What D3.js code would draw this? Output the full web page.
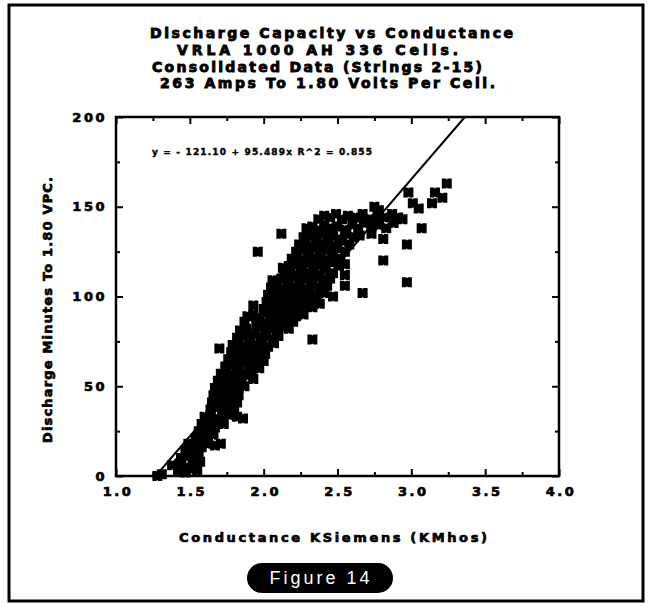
<!DOCTYPE html>
<html lang="en">
<head>
<title>Discharge Capacity vs Conductance</title>
<meta charset="utf-8">
<script src="https://d3js.org/d3.v7.min.js"></script>
<style type="text/css">
  body { margin: 0; background: #fff; }
  svg text { font-family: 'DejaVu Sans', sans-serif; font-weight: bold; fill: #000; stroke: #000; stroke-width: 0.7px; }
  .axis path.domain { display: none; }
  .axis line { stroke: #000; stroke-width: 2; }
</style>
</head>
<body>
<div id="chart"></div>
<script>

/* Data */
/* ==== */

var titleLines = [
  'Discharge Capacity vs Conductance',
  'VRLA 1000 AH 336 Cells.',
  'Consolidated Data (Strings 2-15)',
  '263 Amps To 1.80 Volts Per Cell.'
];

var xTicks = [1.0, 1.5, 2.0, 2.5, 3.0, 3.5, 4.0];
var xMinorTicks = [1.25, 1.75, 2.25, 2.75, 3.25, 3.75];
var yTicks = [0, 50, 100, 150, 200];
var yMinorTicks = [25, 75, 125, 175];

// regression: y = intercept + slope * x
var intercept = -121.10,
    slope = 95.489,
    rSquared = 0.855;

// [conductance (KMhos), discharge minutes]
var cells = [
  [1.28,0],[1.31,1],
  [1.42,3],[1.47,2],[1.51,4],[1.55,3],
  [1.38,6],[1.43,7],[1.48,5],[1.53,6],[1.57,8],
  [1.44,10],[1.49,11],[1.52,9],[1.56,12],
  [1.47,14],[1.51,15],[1.55,13],[1.58,16],
  [1.49,18],[1.53,17],[1.58,19],[1.62,18],[1.67,17],[1.71,18],
  [1.54,21],[1.58,22],[1.62,21],[1.66,23],
  [1.56,25],[1.60,26],[1.64,24],[1.67,27],
  [1.58,29],[1.62,30],[1.66,28],[1.70,30],[1.73,29],
  [1.60,33],[1.64,34],[1.68,32],[1.72,33],[1.77,34],[1.82,33],[1.86,32],
  [1.64,37],[1.68,38],[1.72,36],[1.76,39],[1.80,37],
  [1.65,41],[1.69,42],[1.73,40],[1.77,43],[1.82,41],
  [1.66,45],[1.70,46],[1.74,44],[1.78,47],[1.83,45],
  [1.67,49],[1.71,50],[1.75,48],[1.79,51],[1.83,49],[1.87,50],
  [1.69,53],[1.73,54],[1.77,52],[1.81,55],[1.85,53],[1.89,56],[1.93,54],
  [1.71,57],[1.75,58],[1.79,56],[1.83,59],[1.87,57],[1.92,58],
  [1.74,61],[1.78,62],[1.82,60],[1.86,63],[1.90,61],[1.94,62],[1.97,60],
  [1.76,65],[1.80,66],[1.84,64],[1.88,67],[1.92,65],[1.96,66],[2.00,64],
  [1.78,69],[1.82,70],[1.86,68],[1.90,71],[1.94,69],[1.98,70],[2.01,68],[1.70,71],
  [1.79,73],[1.83,74],[1.87,72],[1.91,75],[1.95,73],[1.99,74],[2.03,72],[2.07,74],[2.33,76],
  [1.82,77],[1.86,78],[1.90,76],[1.94,79],[1.98,77],[2.02,78],[2.06,76],[2.10,78],
  [1.84,81],[1.88,82],[1.92,80],[1.97,83],[2.01,81],[2.05,82],[2.09,80],[2.13,83],[2.17,82],
  [1.95,85],[1.87,86],[2.00,85],[2.04,86],[2.08,84],[2.12,87],[2.16,85],[2.20,86],
  [1.89,89],[1.93,90],[1.97,88],[2.02,91],[2.06,89],[2.10,90],[2.14,88],[2.18,91],[2.22,89],[2.27,90],
  [2.00,93],[2.04,94],[2.08,92],[2.12,95],[2.16,93],[2.20,94],[2.24,92],[2.28,95],[2.33,94],
  [1.93,95],[2.38,96],
  [2.02,97],[2.06,98],[2.10,96],[2.14,99],[2.18,97],[2.22,98],[2.26,96],[2.30,99],[2.34,97],
  [2.03,101],[2.07,102],[2.11,100],[2.15,103],[2.19,101],[2.23,102],[2.27,100],[2.31,103],[2.36,101],[2.41,102],[2.47,100],
  [2.67,102],
  [2.05,105],[2.09,106],[2.13,104],[2.17,107],[2.21,105],[2.25,106],[2.29,104],[2.33,107],[2.38,105],[2.43,106],
  [2.55,106],[2.97,108],
  [2.06,109],[2.12,110],[2.16,108],[2.20,111],[2.24,109],[2.28,110],[2.32,108],[2.36,111],[2.40,109],[2.45,110],
  [2.55,112],
  [2.14,113],[2.18,114],[2.22,112],[2.26,115],[2.30,113],[2.34,114],[2.38,112],[2.42,115],[2.47,113],
  [2.13,116],[2.17,117],[2.21,118],[2.25,116],[2.29,119],[2.33,117],[2.37,118],[2.41,116],[2.46,119],[2.51,117],[2.55,118],
  [2.81,120],
  [2.19,121],[2.23,122],[2.27,120],[2.31,123],[2.35,121],[2.39,122],[2.43,120],[2.47,123],[2.52,121],
  [1.96,125],
  [2.22,125],[2.26,126],[2.30,124],[2.34,127],[2.38,125],[2.42,126],[2.46,124],[2.50,127],[2.55,125],
  [2.24,129],[2.28,130],[2.32,128],[2.36,131],[2.40,129],[2.44,130],[2.48,128],[2.53,131],[2.58,129],
  [2.97,129],
  [2.12,135],[2.27,133],[2.31,134],[2.35,132],[2.39,135],[2.43,133],[2.47,134],[2.51,132],[2.56,135],[2.61,133],[2.65,134],
  [2.73,135],[2.81,132],
  [2.29,138],[2.33,139],[2.37,137],[2.41,140],[2.45,138],[2.50,139],[2.55,137],[2.60,140],[2.64,138],[2.68,141],[2.73,139],[2.78,140],[2.83,138],[2.88,141],
  [3.07,138],
  [2.37,143],[2.41,145],[2.45,144],[2.49,146],[2.53,143],[2.57,145],[2.62,144],[2.67,146],[2.72,143],[2.77,145],[2.82,144],[2.87,146],[2.91,144],
  [2.94,143],
  [2.75,150],[2.78,148],[3.01,152],[3.05,149],[3.14,152],[2.98,158],[3.16,158],[3.21,155],[3.24,163]
];


/* Set up */
/* ====== */

var width = 655,
    height = 603;

var plot = { left: 116, right: 559, top: 117, bottom: 476 };

var svg = d3.select('#chart').append('svg')
    .attr('width', width)
    .attr('height', height);

var x = d3.scaleLinear().domain([1, 4]).range([plot.left, plot.right]);
var y = d3.scaleLinear().domain([0, 200]).range([plot.bottom, plot.top]);

// outer frame
svg.append('rect')
    .attr('x', 9).attr('y', 5)
    .attr('width', 634).attr('height', 596)
    .attr('fill', 'none')
    .attr('stroke', '#000')
    .attr('stroke-width', 3);


/* Titles */
/* ------ */

var titlePos = [
  { x: 150, w: 363, y: 38 },
  { x: 177, w: 281, y: 55 },
  { x: 152, w: 330, y: 72 },
  { x: 160, w: 335, y: 88 }
];

svg.selectAll('text.title')
  .data(titleLines)
  .enter().append('text')
    .attr('class', 'title')
    .attr('x', function(d, i) { return titlePos[i].x; })
    .attr('y', function(d, i) { return titlePos[i].y; })
    .attr('textLength', function(d, i) { return titlePos[i].w; })
    .attr('lengthAdjust', 'spacing')
    .style('font-size', '14px')
    .style('stroke-width', '0.9px')
    .text(function(d) { return d; });


/* Axes */
/* ---- */

function addAxis(axis, tx, ty) {
  return svg.append('g')
      .attr('class', 'axis')
      .attr('transform', 'translate(' + tx + ',' + ty + ')')
      .call(axis);
}

// major and minor ticks all round, pointing inward
var xBottom = addAxis(d3.axisBottom(x).tickValues(xTicks).tickSize(-7).tickPadding(11)
    .tickFormat(d3.format('.1f')), 0, plot.bottom);
addAxis(d3.axisBottom(x).tickValues(xMinorTicks).tickSize(-4).tickFormat(''), 0, plot.bottom);
addAxis(d3.axisTop(x).tickValues(xTicks).tickSize(-7).tickFormat(''), 0, plot.top);
addAxis(d3.axisTop(x).tickValues(xMinorTicks).tickSize(-4).tickFormat(''), 0, plot.top);

var yLeft = addAxis(d3.axisLeft(y).tickValues(yTicks).tickSize(-7).tickPadding(12)
    .tickFormat(d3.format('d')), plot.left, 0);
addAxis(d3.axisLeft(y).tickValues(yMinorTicks).tickSize(-4).tickFormat(''), plot.left, 0);
addAxis(d3.axisRight(y).tickValues(yTicks).tickSize(-7).tickFormat(''), plot.right, 0);
addAxis(d3.axisRight(y).tickValues(yMinorTicks).tickSize(-4).tickFormat(''), plot.right, 0);

xBottom.selectAll('text')
    .style('font-size', '13px')
    .style('letter-spacing', '2.5px')
    .attr('dx', '1.5px');

yLeft.selectAll('text')
    .style('font-size', '13px')
    .style('letter-spacing', '2.5px')
    .attr('dx', '3px');

// plot box
svg.append('rect')
    .attr('x', plot.left).attr('y', plot.top)
    .attr('width', plot.right - plot.left)
    .attr('height', plot.bottom - plot.top)
    .attr('fill', 'none')
    .attr('stroke', '#000')
    .attr('stroke-width', 2.5);

// axis titles
svg.append('text')
    .attr('x', 179).attr('y', 542)
    .attr('textLength', 308)
    .attr('lengthAdjust', 'spacing')
    .style('font-size', '13px')
    .text('Conductance KSiemens (KMhos)');

svg.append('text')
    .attr('transform', 'translate(52,443) rotate(-90)')
    .attr('textLength', 266)
    .attr('lengthAdjust', 'spacing')
    .style('font-size', '13px')
    .text('Discharge Minutes To 1.80 VPC.');


/* Marks */
/* ----- */

// regression line clipped to 0..200 minutes
var lineX0 = (0 - intercept) / slope,
    lineX1 = (200 - intercept) / slope;

svg.append('line')
    .attr('x1', x(lineX0)).attr('y1', y(0))
    .attr('x2', x(lineX1)).attr('y2', y(200))
    .attr('stroke', '#000')
    .attr('stroke-width', 2);

// notched square marker
var marker = 'M-5,-5H-1L0,-4L1,-5H5V5H1L0,4L-1,5H-5Z';

svg.append('g').selectAll('path')
  .data(cells)
  .enter().append('path')
    .attr('d', marker)
    .attr('transform', function(d) { return 'translate(' + x(d[0]) + ',' + y(d[1]) + ')'; })
    .attr('fill', '#000');

// equation
svg.append('text')
    .attr('x', 152).attr('y', 155)
    .attr('textLength', 220)
    .attr('lengthAdjust', 'spacing')
    .style('font-size', '9px')
    .style('stroke-width', '0.4px')
    .text('y = - ' + Math.abs(intercept).toFixed(2) + ' + ' + slope.toFixed(3) + 'x   R^2 = ' + rSquared.toFixed(3));


/* Figure badge */
/* ------------ */

svg.append('rect')
    .attr('x', 247).attr('y', 563)
    .attr('width', 146).attr('height', 30)
    .attr('rx', 15).attr('ry', 15)
    .attr('fill', '#000');

svg.append('text')
    .attr('x', 321).attr('y', 584)
    .attr('text-anchor', 'middle')
    .style('font-family', "'Liberation Sans', sans-serif")
    .style('font-weight', 'normal')
    .style('font-size', '18px')
    .style('letter-spacing', '3px')
    .style('fill', '#fff')
    .style('stroke', 'none')
    .text('Figure 14');

</script>
</body>
</html>
